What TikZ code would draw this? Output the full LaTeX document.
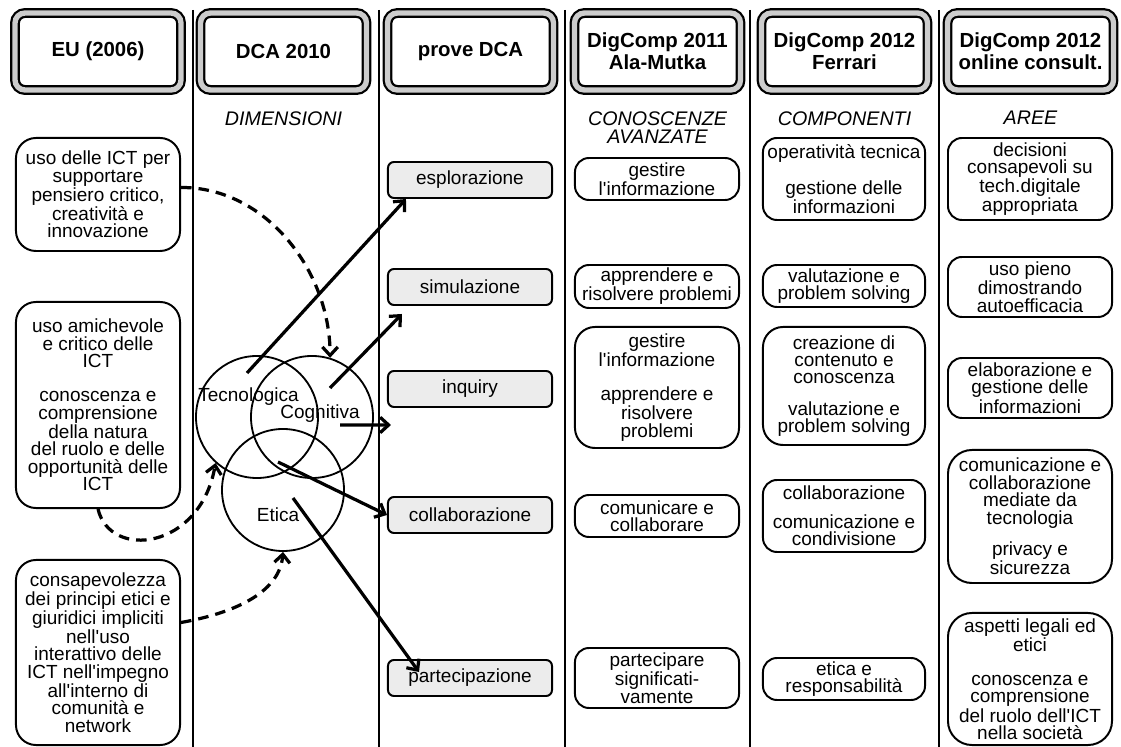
\documentclass[tikz,border=0pt]{standalone}
\usepackage{fontspec}
\setmainfont{Liberation Sans}
\usetikzlibrary{shapes.geometric, arrows.meta, positioning, calc}
\newcommand{\apo}{\textquotesingle}

\begin{document}
\begin{tikzpicture}[
    x=0.025cm, y=-0.025cm,
    header/.style = {rectangle, rounded corners=0.25cm, draw=black, line width=1.6pt, double=gray!40, double distance=3.8pt, fill=white, minimum width=4.15cm, minimum height=1.925cm, align=center, font=\fontsize{14.5}{15.5}\selectfont\bfseries},
    subtitle/.style = {inner sep=0pt, align=center, font=\fontsize{14}{12.8}\selectfont\itshape},
    note/.style = {rectangle, rounded corners=#1, draw=black, line width=1.4pt, fill=white, minimum width=4.1cm, align=center, inner sep=1pt, font=\fontsize{13.5}{12.4}\selectfont},
    note/.default = 0.35cm,
    test/.style = {rectangle, rounded corners=0.15cm, draw=black, line width=1.4pt, fill=gray!15, minimum width=4.1cm, minimum height=0.9cm, font=\fontsize{13.5}{12.4}\selectfont},
    dim/.style = {circle, draw=black, line width=1.3pt, minimum size=3.05cm, inner sep=0pt},
    dimlabel/.style = {anchor=base, inner sep=0pt, font=\fontsize{13.5}{12.4}\selectfont},
    arr/.style = {-{Straight Barb[length=6pt, width=11pt]}, line width=2.3pt},
    dasharr/.style = {arr, dash pattern=on 7.5pt off 5pt},
    sep/.style = {line width=1pt}
]
    \useasboundingbox (0,0) rectangle (1121,747);

    % 1. Column separators
    \foreach \sx in {193,379,565,750,939}
        \draw [sep] (\sx,10) -- (\sx,747);

    % 2. Headers
    \node [header] (hdr1) at (98,51.5) {EU (2006)};
    \node [header] (hdr2) at (283.5,51.5) {DCA 2010};
    \node [header] (hdr3) at (470.5,51.5) {prove DCA};
    \node [header] (hdr4) at (657.5,51.5) {DigComp 2011\\Ala-Mutka};
    \node [header] (hdr5) at (844.5,51.5) {DigComp 2012\\Ferrari};
    \node [header] (hdr6) at (1030.5,51.5) {DigComp 2012\\online consult.};

    \node [subtitle, below=0.5cm of hdr2] (sub2) {DIMENSIONI};
    \node [subtitle, below=0.5cm of hdr4] (sub4) {CONOSCENZE\\AVANZATE};
    \node [subtitle, below=0.5cm of hdr5] (sub5) {COMPONENTI};
    \node [subtitle, below=0.5cm of hdr6] (sub6) {AREE};

    % 3. EU (2006)
    \node [note=0.5cm, minimum height=2.825cm] (euA) at (98,194.5) {uso delle ICT per\\supportare\\pensiero critico,\\creatività e\\innovazione};
    \node [note=0.5cm, minimum height=5.15cm] (euB) at (98,405) {uso amichevole\\e critico delle\\ICT\\[12pt]conoscenza e\\comprensione\\della natura\\del ruolo e delle\\opportunità delle\\ICT};
    \node [note=0.5cm, minimum height=4.625cm] (euC) at (98,652.5) {consapevolezza\\dei principi etici e\\giuridici impliciti\\nell\apo uso\\interattivo delle\\ICT nell\apo impegno\\all\apo interno di\\comunità e\\network};

    % 4. DCA 2010 dimensions
    \node [dim] (tec) at (257,417) {};
    \node [dim] (cog) at (312,417) {};
    \node [dim] (eti) at (283,490) {};
    \node [dimlabel] (tecL) at (248.5,402) {Tecnologica};
    \node [dimlabel] (cogL) at (320,419) {Cognitiva};
    \node [dimlabel] (etiL) at (278,522) {Etica};

    % 5. prove DCA
    \node [test] (esplo) at (470,180) {esplorazione};
    \node [test] (simul) at (470,287) {simulazione};
    \node [test] (inqu) at (470,389) {inquiry};
    \node [test] (collab) at (470,515) {collaborazione};
    \node [test] (partec) at (470,678) {partecipazione};

    % 6. DigComp 2011 Ala-Mutka
    \node [note, minimum height=1.05cm] (am1) at (657,179) {gestire\\l\apo informazione};
    \node [note, minimum height=1.075cm] (am2) at (657,286.5) {apprendere e\\risolvere problemi};
    \node [note=0.5cm, minimum height=3.025cm] (am3) at (657,387.5) {gestire\\l\apo informazione\\[12pt]apprendere e\\risolvere\\problemi};
    \node [note, minimum height=1.05cm] (am4) at (657,516) {comunicare e\\collaborare};
    \node [note, minimum height=1.5cm] (am5) at (657,678) {partecipare\\significati-\\vamente};

    % 7. DigComp 2012 Ferrari
    \node [note, minimum width=4.05cm, minimum height=2.05cm] (fe1) at (844,179) {operatività tecnica\\[12pt]gestione delle\\informazioni};
    \node [note, minimum width=4.05cm, minimum height=1.05cm] (fe2) at (844,286) {valutazione e\\problem solving};
    \node [note=0.5cm, minimum width=4.05cm, minimum height=2.95cm] (fe3) at (844,386) {creazione di\\contenuto e\\conoscenza\\[10pt]valutazione e\\problem solving};
    \node [note, minimum width=4.05cm, minimum height=1.8cm] (fe4) at (844,516) {collaborazione\\[8pt]comunicazione e\\condivisione};
    \node [note, minimum width=4.05cm, minimum height=1.05cm] (fe5) at (844,679) {etica e\\responsabilità};

    % 8. DigComp 2012 online consult.
    \node [note, minimum height=2.05cm] (ar1) at (1030,179) {decisioni\\consapevoli su\\tech.digitale\\appropriata};
    \node [note, minimum height=1.5cm] (ar2) at (1030,287) {uso pieno\\dimostrando\\autoefficacia};
    \node [note, minimum height=1.5cm] (ar3) at (1030,388) {elaborazione e\\gestione delle\\informazioni};
    \node [note=0.6cm, minimum height=3.325cm] (ar4) at (1030,516.5) {comunicazione e\\collaborazione\\mediate da\\tecnologia\\[9pt]privacy e\\sicurezza};
    \node [note=0.6cm, minimum height=3.3cm] (ar5) at (1030,679) {aspetti legali ed\\etici\\[12pt]conoscenza e\\comprensione\\del ruolo dell\apo ICT\\nella società};

    % 9. Connections
    % EU to dimensions
    \draw [dasharr] ($(euA.east)+(0,-7)$) .. controls (265,187) and (330,270) .. (cog.73);
    \draw [dasharr] (euB.south) .. controls (110,560) and (200,550) .. (tec.228);
    \draw [dasharr] ($(euC.east)+(0,-30)$) .. controls (240,612) and (280,590) .. (eti.south);

    % dimensions to prove
    \coordinate (tecOut) at (247,373);
    \coordinate (cogOut) at (330,388);
    \coordinate (cogMid) at (340,425);
    \coordinate (ovlOut) at (278,462);
    \coordinate (etiOut) at (293,498);
    \draw [arr] (tecOut) -- ($(esplo.south west)+(19,0)$);
    \draw [arr] (cogOut) -- ($(simul.south west)+(15,8)$);
    \draw [arr] (cogMid) -- ($(inqu.south west)+(4,17)$);
    \draw [arr] (ovlOut) -- (collab.west);
    \draw [arr] (etiOut) -- ($(partec.west)+(32,-6)$);

\end{tikzpicture}
\end{document}
